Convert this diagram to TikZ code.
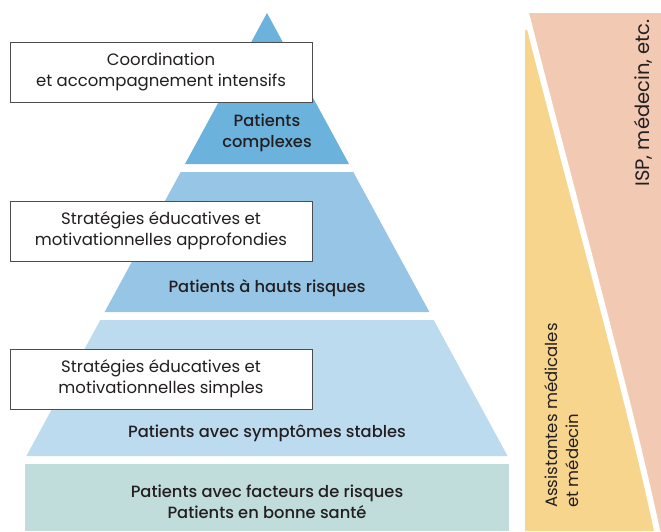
\documentclass[tikz,border=0pt]{standalone}
\usepackage{fontspec}
\setmainfont{Poppins}[BoldFont={Poppins Medium}]
\definecolor{tierA}{HTML}{6BB2DC}
\definecolor{tierB}{HTML}{97C5E6}
\definecolor{tierC}{HTML}{BCDBEF}
\definecolor{tierD}{HTML}{C0DCDB}
\definecolor{yel}{HTML}{F7D58D}
\definecolor{pea}{HTML}{F2CAB3}
\definecolor{boxline}{HTML}{4D4D4D}
\definecolor{ink}{HTML}{231F20}
\begin{document}
\begin{tikzpicture}[x=1pt,y=-1pt,
  strat/.style={draw=boxline, line width=0.9pt, fill=white, minimum width=302pt, minimum height=60pt, align=center, font=\fontsize{16.5}{21}\selectfont, text=ink, inner sep=0pt},
  lvl/.style={align=center, font=\fontsize{16.3}{21}\selectfont\bfseries, text=ink, inner sep=0pt},
  side/.style={align=left, font=\fontsize{16.5}{21}\selectfont, text=ink, inner sep=0pt, rotate=90}]
\useasboundingbox (0,0) rectangle (661,531);
% pyramid tiers
\fill[tierA] (267,13) -- (349,164) -- (185,164) -- cycle;
\fill[tierB] (180.7,172) -- (353.3,172) -- (429.4,312) -- (104.6,312) -- cycle;
\fill[tierC] (100.3,320) -- (433.7,320) -- (507.6,456) -- (26.4,456) -- cycle;
\fill[tierD] (25,464) rectangle (509,531);
% right bands
\begin{scope}
\clip (525,30) rectangle (661,531);
\fill[yel] (515,0) -- (525,10) .. controls (568,180) and (630,400) .. (658,531) -- (515,531) -- cycle;
\end{scope}
\begin{scope}
\clip (525,13) rectangle (661,531);
\fill[pea] (525,10) .. controls (568,180) and (630,400) .. (658,531) -- (670,531) -- (670,0) -- cycle;
\end{scope}
\draw[white, line width=6pt] (524,5) .. controls (568,180) and (630,400) .. (659,540);
% labels
\node[strat] (b1) at (161,72) {Coordination\\et accompagnement intensifs};
\node[strat] (b2) at (161,231) {Stratégies éducatives et\\motivationnelles approfondies};
\node[strat] (b3) at (161,379) {Stratégies éducatives et\\motivationnelles simples};
\node[lvl] (l1) at (267,133) {Patients\\complexes};
\node[lvl] (l2) at (267,288) {Patients à hauts risques};
\node[lvl] (l3) at (267,433) {Patients avec symptômes stables};
\node[lvl] (l4) at (267,502) {Patients avec facteurs de risques\\Patients en bonne santé};
\node[side, anchor=center, font=\fontsize{19.5}{21}\selectfont] (isp) at (643,103) {ISP, médecin, etc.};
\node[side, anchor=north west] (am) at (544,508) {Assistantes médicales\\et médecin};
\end{tikzpicture}
\end{document}
